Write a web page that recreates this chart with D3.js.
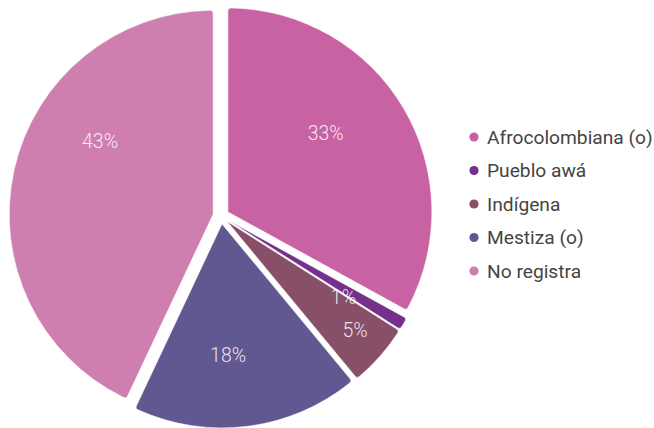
<!DOCTYPE html>
<html>
<head>
<meta charset="utf-8">
<script src="https://cdn.jsdelivr.net/npm/d3@7"></script>
<style>
  html, body { margin: 0; padding: 0; background: #fff; }
  svg { display: block; }
</style>
</head>
<body>
<svg id="chart" width="654" height="428"></svg>
<script>
// Population by ethnic self-identification (percent)
const categories = ["Afrocolombiana (o)", "Pueblo awá", "Indígena", "Mestiza (o)", "No registra"];
const values = [33, 1, 5, 18, 43];
const colors = ["#c862a3", "#74308a", "#874f68", "#625891", "#cf7eb0"];

// Label placement: angular nudge (degrees) from the slice bisector and distance from centre
const labelNudge = [-7.5, 3, -1, 4.3, 19];
const labelRadius = [133, 147, 176, 140, 142];

const width = 654, height = 428;
const cx = 221, cy = 216;
const radius = 204;
const explode = 8;

const svg = d3.select("#chart");

const data = categories.map((c, i) => ({ name: c, value: values[i], color: colors[i] }));

const pie = d3.pie().sort(null).value(d => d.value);
const arcs = pie(data);

const arc = d3.arc().innerRadius(0).outerRadius(radius).cornerRadius(3);

const g = svg.append("g").attr("transform", `translate(${cx},${cy})`);

function polar(angle, r) {
  return [Math.sin(angle) * r, -Math.cos(angle) * r];
}
const mid = d => (d.startAngle + d.endAngle) / 2;

g.selectAll("path.slice")
  .data(arcs)
  .join("path")
  .attr("class", "slice")
  .attr("d", arc)
  .attr("fill", d => d.data.color)
  .attr("stroke", "#fff")
  .attr("stroke-width", 0.6)
  .attr("transform", d => {
    const [x, y] = polar(mid(d), explode);
    return `translate(${x},${y})`;
  });

arcs.forEach((d, i) => {
  d.labelPos = polar(mid(d) + labelNudge[i] * Math.PI / 180, labelRadius[i]);
});

g.selectAll("text.pct")
  .data(arcs)
  .join("text")
  .attr("class", "pct")
  .attr("x", d => d.labelPos[0])
  .attr("y", d => d.labelPos[1])
  .attr("text-anchor", "middle")
  .attr("dominant-baseline", "central")
  .attr("font-family", "Roboto, sans-serif")
  .attr("font-weight", 300)
  .attr("font-size", 19.5)
  .attr("fill", "#ffffff")
  .attr("fill-opacity", 0.85)
  .text(d => d.data.value + "%");

// Legend
const legend = svg.append("g").attr("transform", "translate(474,137)");
const rowH = 33.5;
const items = legend.selectAll("g.item")
  .data(data)
  .join("g")
  .attr("class", "item")
  .attr("transform", (d, i) => `translate(0,${i * rowH})`);

items.append("circle")
  .attr("r", 4.6)
  .attr("fill", d => d.color);

items.append("text")
  .attr("x", 13)
  .attr("y", 0)
  .attr("dominant-baseline", "central")
  .attr("font-family", "Roboto, sans-serif")
  .attr("font-size", 19.2)
  .attr("fill", "#444444")
  .text(d => d.name);
</script>
</body>
</html>
